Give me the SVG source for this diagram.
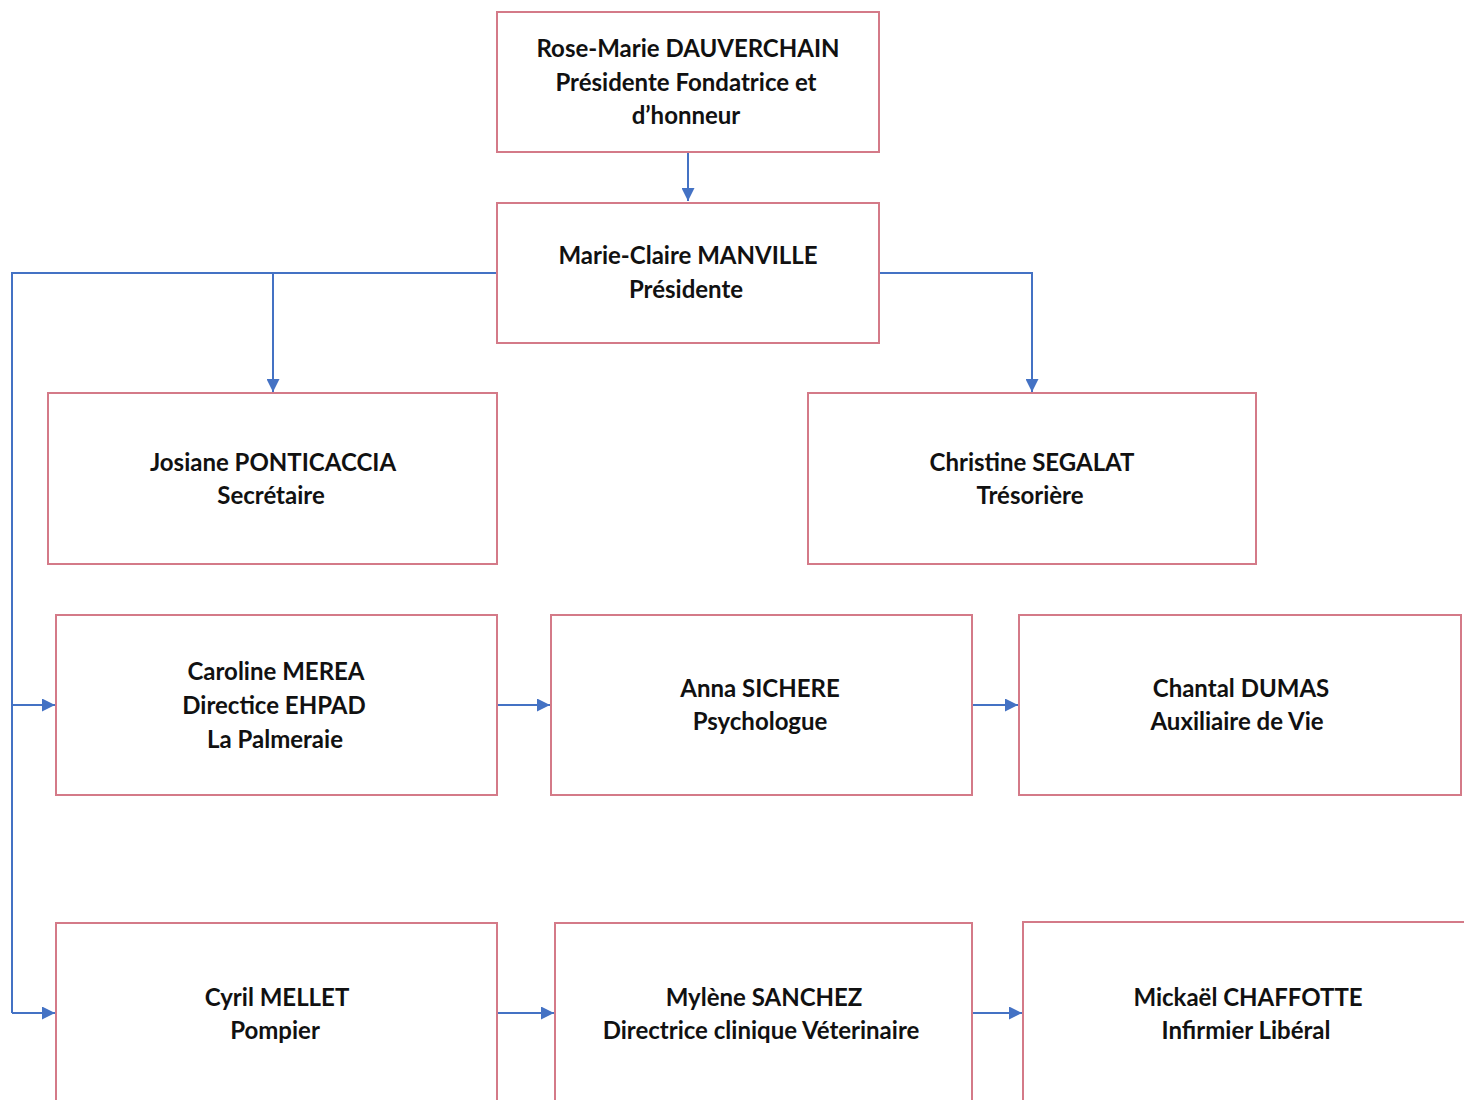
<svg xmlns="http://www.w3.org/2000/svg" width="1464" height="1100" viewBox="0 0 1464 1100">
<defs>
<marker id="ah" viewBox="0 0 10 10" refX="10" refY="5" markerWidth="14" markerHeight="13" markerUnits="userSpaceOnUse" orient="auto">
<path d="M0,0 L10,5 L0,10 z" fill="#4472c4"/>
</marker>
<style>
.box{fill:#fff;stroke:#d47a88;stroke-width:2}
.t{font-family:Lato,"Open Sans","Liberation Sans",sans-serif;font-weight:bold;font-size:24px;fill:#111;text-anchor:middle}
.c{fill:none;stroke:#4472c4;stroke-width:2}
.ca{fill:none;stroke:#4472c4;stroke-width:2;marker-end:url(#ah)}
</style>
</defs>
<rect width="1464" height="1100" fill="#fff"/>
<g id="connectors">
<path class="ca" d="M688,152 V201"/>
<path class="c" d="M497,273 H12 V1013"/>
<path class="ca" d="M273,273 V392"/>
<path class="ca" d="M879,273 H1032 V392"/>
<path class="ca" d="M12,705 H55"/>
<path class="ca" d="M12,1013 H55"/>
<path class="ca" d="M497,705 H550"/>
<path class="ca" d="M972,705 H1018"/>
<path class="ca" d="M497,1013 H554"/>
<path class="ca" d="M972,1013 H1022"/>
</g>
<g id="n1"><rect class="box" x="497" y="12" width="382" height="140"/>
<text class="t" x="688" y="57">Rose-Marie DAUVERCHAIN</text><text class="t" x="686" y="91">Présidente Fondatrice et</text><text class="t" x="686" y="124">d’honneur</text></g>
<g id="n2"><rect class="box" x="497" y="203" width="382" height="140"/>
<text class="t" x="688" y="264">Marie-Claire MANVILLE</text><text class="t" x="686" y="298">Présidente</text></g>
<g id="n3"><rect class="box" x="48" y="393" width="449" height="171"/>
<text class="t" x="273" y="471">Josiane PONTICACCIA</text><text class="t" x="271" y="504">Secrétaire</text></g>
<g id="n4"><rect class="box" x="808" y="393" width="448" height="171"/>
<text class="t" x="1032" y="471">Christine SEGALAT</text><text class="t" x="1030" y="504">Trésorière</text></g>
<g id="n5"><rect class="box" x="56" y="615" width="441" height="180"/>
<text class="t" x="276" y="680">Caroline MEREA</text><text class="t" x="274" y="714">Directice EHPAD</text><text class="t" x="275" y="748">La Palmeraie</text></g>
<g id="n6"><rect class="box" x="551" y="615" width="421" height="180"/>
<text class="t" x="760" y="697">Anna SICHERE</text><text class="t" x="760" y="730">Psychologue</text></g>
<g id="n7"><rect class="box" x="1019" y="615" width="442" height="180"/>
<text class="t" x="1241" y="697">Chantal DUMAS</text><text class="t" x="1237" y="730">Auxiliaire de Vie</text></g>
<g id="n8"><rect class="box" x="56" y="923" width="441" height="200"/>
<text class="t" x="277" y="1006">Cyril MELLET</text><text class="t" x="275" y="1039">Pompier</text></g>
<g id="n9"><rect class="box" x="555" y="923" width="417" height="200"/>
<text class="t" x="764" y="1006">Mylène SANCHEZ</text><text class="t" x="761" y="1039">Directrice clinique Véterinaire</text></g>
<g id="n10"><rect class="box" x="1023" y="922" width="460" height="200"/>
<text class="t" x="1248" y="1006">Mickaël CHAFFOTTE</text><text class="t" x="1246" y="1039">Infirmier Libéral</text></g>
</svg>
